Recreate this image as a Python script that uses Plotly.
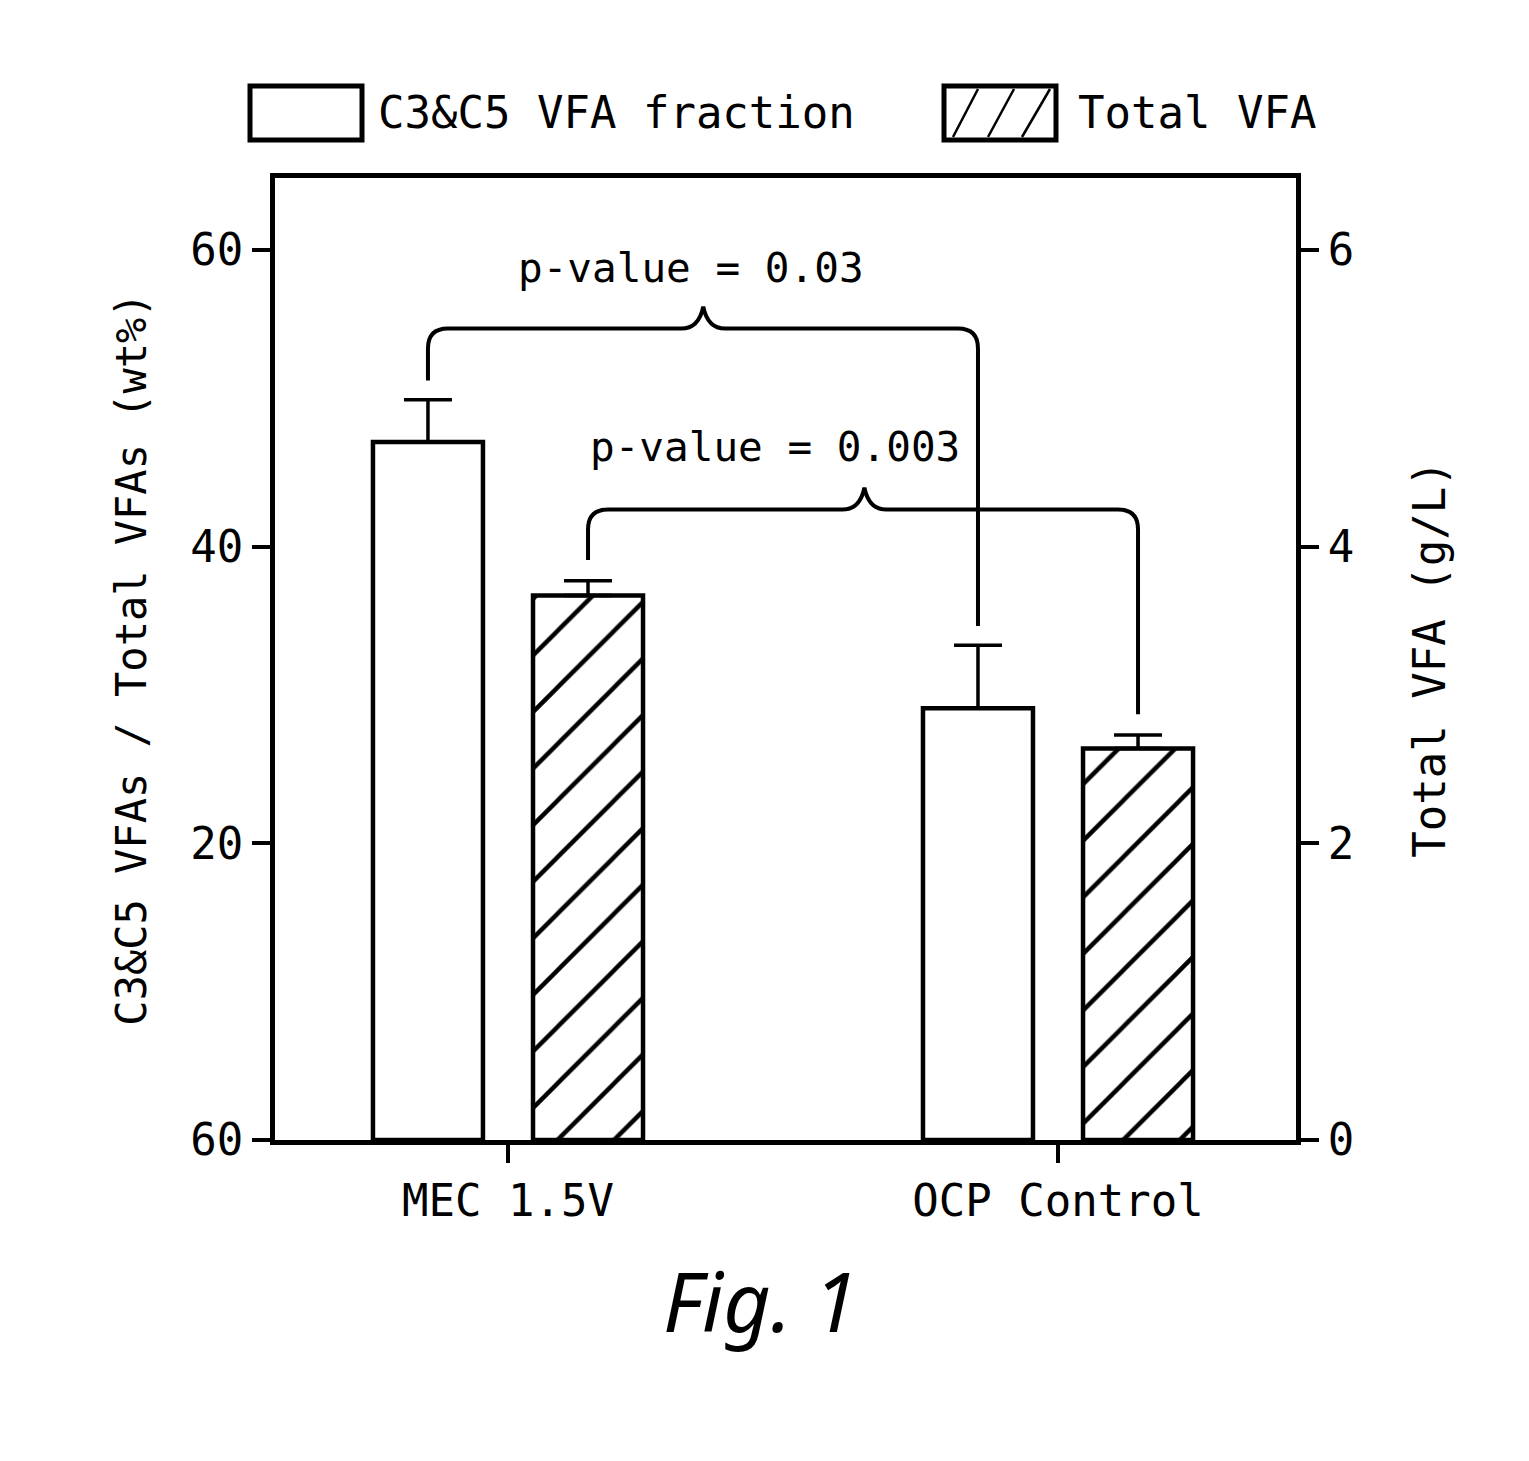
import plotly.graph_objects as go

# ---------------- data ----------------
categories = ["MEC 1.5V", "OCP Control"]
c3c5_fraction = [47.05, 29.1]          # wt% (left axis)
c3c5_err = [2.85, 4.25]
total_vfa = [3.67, 2.64]               # g/L (right axis)
total_vfa_err = [0.10, 0.09]
left_tickvals = [0, 20, 40, 60]
left_ticktext = ["60", "20", "40", "60"]
right_tickvals = [0, 2, 4, 6]
right_ticktext = ["0", "2", "4", "6"]
p_labels = ["p-value = 0.03", "p-value = 0.003"]
legend_labels = ["C3&C5 VFA fraction", "Total VFA"]

W, H = 1529, 1461
L, R, T, B = 275, 233, 178, 321
FONT = "DejaVu Sans Mono"
OFF = 0.1455
BW = 0.2

xs_white = [i - OFF for i in range(len(categories))]
xs_hatch = [i + OFF for i in range(len(categories))]

fig = go.Figure()
fig.add_trace(go.Bar(
    x=xs_white, y=c3c5_fraction, width=BW, name=legend_labels[0],
    marker=dict(color="white", line=dict(color="black", width=4.5)),
    error_y=dict(type="data", array=c3c5_err, arrayminus=[0] * len(c3c5_err),
                 symmetric=False, color="black", thickness=3.5, width=24),
    showlegend=False))
fig.add_trace(go.Bar(
    x=xs_hatch, y=total_vfa, width=BW, name=legend_labels[1], yaxis="y2",
    marker=dict(color="white", line=dict(color="black", width=4.5),
                pattern=dict(shape="/", fgcolor="black", bgcolor="white",
                             fgopacity=1, size=40, solidity=0.11)),
    error_y=dict(type="data", array=total_vfa_err, arrayminus=[0] * len(total_vfa_err),
                 symmetric=False, color="black", thickness=3.5, width=24),
    showlegend=False))

# ---------------- brackets ----------------
pw = W - L - R
ph = H - T - B
x_range = [-0.4236, 1.4327]
y_range = [0, 64.85]
y2_range = [0, 6.485]
xu = (x_range[1] - x_range[0]) / pw      # data units per px (x)


def bracket(xl, yl_bot, xr, yr_bot, level, tipx, yu, yref):
    rx = 20 * xu
    ry = 20 * yu
    bx = 22 * xu
    th = 22 * yu
    p = (f"M {xl},{yl_bot} L {xl},{level - ry} Q {xl},{level} {xl + rx},{level} "
         f"L {tipx - bx},{level} Q {tipx - 0.2 * bx},{level} {tipx},{level + th} "
         f"Q {tipx + 0.2 * bx},{level} {tipx + bx},{level} "
         f"L {xr - rx},{level} Q {xr},{level} {xr},{level - ry} L {xr},{yr_bot}")
    return dict(type="path", path=p, xref="x", yref=yref,
                line=dict(color="black", width=4))


yu1 = (y_range[1] - y_range[0]) / ph
yu2 = (y2_range[1] - y2_range[0]) / ph
gap1 = 1.3
gap2 = 0.14
shapes = []
shapes.append(bracket(xs_white[0], c3c5_fraction[0] + c3c5_err[0] + gap1,
                      xs_white[1], c3c5_fraction[1] + c3c5_err[1] + gap1,
                      54.7, 0.355, yu1, "y"))
shapes.append(bracket(xs_hatch[0], total_vfa[0] + total_vfa_err[0] + gap2,
                      xs_hatch[1], total_vfa[1] + total_vfa_err[1] + gap2,
                      4.25, 0.648, yu2, "y2"))


# ---------------- custom legend ----------------
def px(x):
    return (x - L) / pw


def py(y):
    return (H - B - y) / ph


shapes.append(dict(type="rect", xref="paper", yref="paper",
                   x0=px(250), x1=px(362), y0=py(140), y1=py(86),
                   line=dict(color="black", width=5), fillcolor="white"))
shapes.append(dict(type="rect", xref="paper", yref="paper",
                   x0=px(944), x1=px(1056), y0=py(140), y1=py(86),
                   line=dict(color="black", width=5), fillcolor="white"))
for xb, xt in [(953, 978), (988, 1014), (1022, 1050)]:
    shapes.append(dict(type="line", xref="paper", yref="paper",
                       x0=px(xb), y0=py(137), x1=px(xt), y1=py(89),
                       line=dict(color="black", width=2.5)))

annotations = [
    dict(text=legend_labels[0], xref="paper", yref="paper", x=px(376), y=py(112),
         xanchor="left", yanchor="middle", showarrow=False,
         font=dict(family=FONT, size=44, color="black")),
    dict(text=legend_labels[1], xref="paper", yref="paper", x=px(1076), y=py(112),
         xanchor="left", yanchor="middle", showarrow=False,
         font=dict(family=FONT, size=44, color="black")),
    dict(text=p_labels[0], xref="x", yref="y", x=0.333, y=58.8,
         xanchor="center", yanchor="middle", showarrow=False,
         font=dict(family=FONT, size=41, color="black")),
    dict(text=p_labels[1], xref="x", yref="y", x=0.485, y=46.7,
         xanchor="center", yanchor="middle", showarrow=False,
         font=dict(family=FONT, size=41, color="black")),
    dict(text="Fig. 1", xref="paper", yref="paper", x=px(760), y=py(1300),
         xanchor="center", yanchor="middle", showarrow=False,
         font=dict(family="Noto Sans", size=82, color="black", style="italic")),
]

axis_common = dict(showline=True, linecolor="black", linewidth=5, ticks="outside",
                   ticklen=18, tickwidth=3.5, tickcolor="black", showgrid=False,
                   zeroline=False, tickfont=dict(family=FONT, size=44, color="black"))

fig.update_layout(
    width=W, height=H,
    margin=dict(l=L, r=R, t=T, b=B, pad=0),
    paper_bgcolor="white", plot_bgcolor="white",
    barmode="overlay",
    showlegend=False,
    xaxis=dict(range=x_range, tickvals=list(range(len(categories))), ticktext=categories,
               mirror=True, **axis_common),
    yaxis=dict(range=y_range, tickvals=left_tickvals, ticktext=left_ticktext,
               title=dict(text="C3&C5 VFAs / Total VFAs (wt%)",
                          font=dict(family=FONT, size=42, color="black"), standoff=32),
               **axis_common),
    yaxis2=dict(range=y2_range, tickvals=right_tickvals, ticktext=right_ticktext,
                overlaying="y", side="right",
                title=dict(text="Total VFA (g/L)",
                           font=dict(family=FONT, size=44, color="black"), standoff=62),
                **axis_common),
    shapes=shapes,
    annotations=annotations,
)

fig.write_html("out.html")
